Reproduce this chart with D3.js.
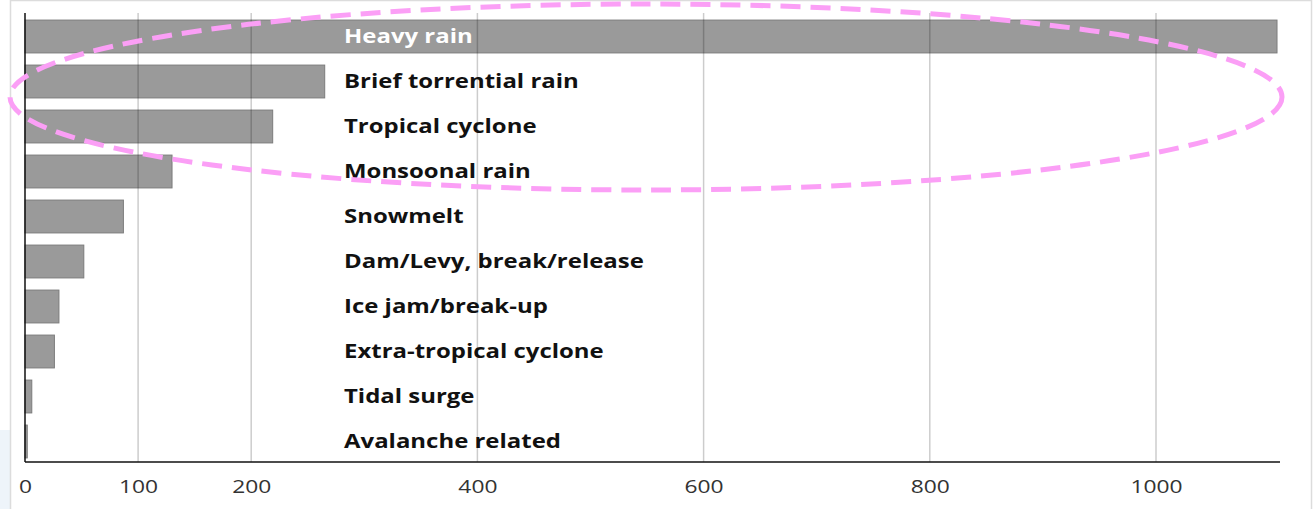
<!DOCTYPE html>
<html>
<head>
<meta charset="utf-8">
<script src="https://cdn.jsdelivr.net/npm/d3@7"></script>
<style>
  html, body { margin: 0; padding: 0; background: #ffffff; }
  svg { display: block; }
</style>
</head>
<body>
<svg id="chart" width="1315" height="509"></svg>
<script>
// Flood events by main cause
const causes = [
  "Heavy rain", "Brief torrential rain", "Tropical cyclone", "Monsoonal rain",
  "Snowmelt", "Dam/Levy, break/release", "Ice jam/break-up",
  "Extra-tropical cyclone", "Tidal surge", "Avalanche related"
];
const events = [1107, 265, 219, 130, 87, 52, 30, 26, 6, 2];
const tickValues = [0, 100, 200, 400, 600, 800, 1000];
const tickLabels = ["0", "100", "200", "400", "600", "800", "1000"];

const svg = d3.select("#chart");

// page backdrop and frame
svg.append("rect").attr("x", 0).attr("y", 430).attr("width", 10).attr("height", 79)
  .attr("fill", "#eef4fa");
svg.append("rect").attr("x", 10.5).attr("y", 0.5).attr("width", 1301).attr("height", 530)
  .attr("fill", "#ffffff").attr("stroke", "#dcdcdc").attr("stroke-width", 1.5);

const x = d3.scaleLinear().domain([0, 1000]).range([25, 1156]);
const y = d3.scaleBand().domain(causes).range([14, 464])
  .paddingInner(0.27).paddingOuter(0.135);

const axisY = 462;
const axisRight = 1280;
const textStretch = 1.26;   // the chart's lettering is set wide

// bars
const rows = causes.map((c, i) => ({ cause: c, value: events[i] }));
svg.append("g").selectAll("rect").data(rows).join("rect")
  .attr("x", x(0))
  .attr("y", d => y(d.cause))
  .attr("width", d => x(d.value) - x(0))
  .attr("height", y.bandwidth())
  .attr("fill", "#9a9a9a")
  .attr("stroke", "#7c7c7c")
  .attr("stroke-width", 1);

// vertical gridlines, drawn over the bars
svg.append("g").selectAll("line").data(tickValues.slice(1)).join("line")
  .attr("x1", d => x(d)).attr("x2", d => x(d))
  .attr("y1", 13).attr("y2", axisY)
  .attr("stroke", "rgba(0,0,0,0.2)")
  .attr("stroke-width", 1.5);

// bottom axis with tick labels
const xAxis = d3.axisBottom(x)
  .tickValues(tickValues)
  .tickFormat((d, i) => tickLabels[i])
  .tickSize(0)
  .tickPadding(18);
const gx = svg.append("g").attr("transform", `translate(0,${axisY})`).call(xAxis);
gx.select(".domain").remove();
gx.selectAll("text")
  .attr("font-family", "'Open Sans', sans-serif")
  .attr("font-size", 19)
  .attr("transform", "scale(1.2,1)")
  .attr("fill", "#333");
svg.append("line").attr("x1", x(0)).attr("x2", axisRight)
  .attr("y1", axisY).attr("y2", axisY)
  .attr("stroke", "#111").attr("stroke-width", 1.5);
svg.append("line").attr("x1", x(0)).attr("x2", x(0))
  .attr("y1", 13).attr("y2", axisY)
  .attr("stroke", "#111").attr("stroke-width", 1.5);

// category labels
svg.append("g").selectAll("text").data(rows).join("text")
  .attr("transform", d => `translate(344,${y(d.cause) + y.bandwidth() / 2}) scale(${textStretch},1)`)
  .attr("dy", "0.36em")
  .attr("font-family", "'Open Sans', sans-serif")
  .attr("font-weight", 700)
  .attr("font-size", 19)
  .attr("fill", (d, i) => i === 0 ? "#ffffff" : "#111")
  .text(d => d.cause);

// highlight around the rain-driven causes
svg.append("ellipse")
  .attr("cx", 646).attr("cy", 97)
  .attr("rx", 636).attr("ry", 93)
  .attr("fill", "none")
  .attr("stroke", "#fb9ff6")
  .attr("stroke-width", 5)
  .attr("stroke-dasharray", "20 10");
</script>
</body>
</html>
